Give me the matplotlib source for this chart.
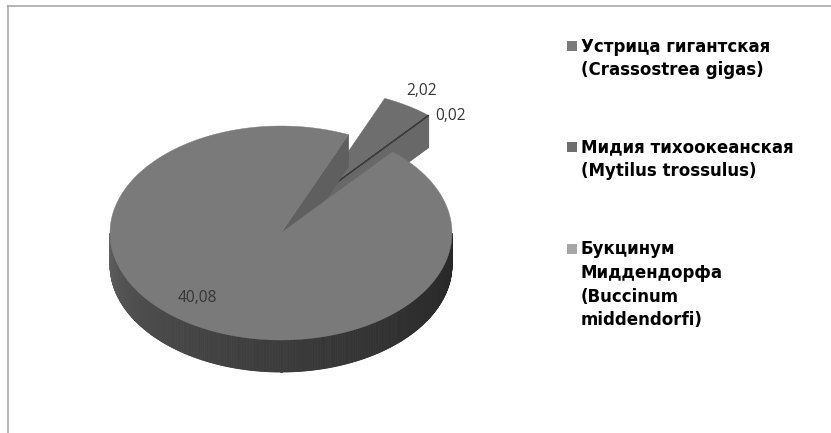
import numpy as np
import matplotlib
matplotlib.use("Agg")
import matplotlib.pyplot as plt
from matplotlib.patches import Polygon, Rectangle
from matplotlib.colors import to_rgb

# data
names = ["Устрица гигантская\n(Crassostrea gigas)",
         "Мидия тихоокеанская\n(Mytilus trossulus)",
         "Букцинум\nМиддендорфа\n(Buccinum\nmiddendorfi)"]
values = [40.08, 2.02, 0.02]
labels = ["40,08", "2,02", "0,02"]
explode = [0.0, 0.4, 0.4]

# style
colors = ["#7a7a7a", "#6e6e6e", "#a6a6a6"]
face_colors = ["#5f5f5f", "#636363", "#686868"]
start_angle = 49.3          # first slice starts here, runs clockwise
cx, cy = 281.0, 233.0       # pie centre [px]
rx, ry = 171.0, 107.0       # top ellipse radii [px]
depth = 32.0                # pie thickness [px]

W, H = 831, 433
fig = plt.figure(figsize=(W / 100, H / 100), dpi=100)
ax = fig.add_axes([0, 0, 1, 1])
ax.set_xlim(0, W)
ax.set_ylim(H, 0)
ax.axis("off")

# frame (only top and left edge visible in the crop)
ax.plot([7.5, W], [5.5, 5.5], color="#a8a8a8", lw=1.2)
ax.plot([7.5, 7.5], [5.5, H], color="#a8a8a8", lw=1.2)


def pt(t, ox, oy, dz=0.0):
    t = np.radians(t)
    return cx + ox + rx * np.cos(t), cy + oy - ry * np.sin(t) + dz


def darker(c, f):
    r, g, b = to_rgb(c)
    return (r * f, g * f, b * f)


# slice angles (math degrees, ccw), slices go clockwise from start_angle
fracs = np.array(values) / sum(values) * 360.0
ends = start_angle - np.concatenate([[0], np.cumsum(fracs)[:-1]])
starts = ends - fracs

# exploded slices move out together, along the middle of the group
ex = [i for i in range(len(values)) if explode[i] > 0]
group_mid = np.radians((starts[ex].min() + ends[ex].max()) / 2)

slices = []
for i in range(len(values)):
    ox = explode[i] * rx * np.cos(group_mid)
    oy = -explode[i] * ry * np.sin(group_mid)
    slices.append((i, starts[i], ends[i], ox, oy))

# back slices first; within a group the wider slice first
slices.sort(key=lambda s: (round(s[4], 3), -fracs[s[0]]))

for i, a, b, ox, oy in slices:
    c0 = (cx + ox, cy + oy)
    # radial cut faces
    for t, is_start in ((a, True), (b, False)):
        tr = np.radians(t)
        visible = np.cos(tr) > 0 if is_start else np.cos(tr) < 0
        if not visible or fracs[i] >= 359.9:
            continue
        x1, y1 = pt(t, ox, oy)
        poly = [c0, (x1, y1), (x1, y1 + depth), (c0[0], c0[1] + depth)]
        ax.add_patch(Polygon(poly, closed=True, fc=face_colors[i],
                             ec=face_colors[i], lw=0.5))
    # outer wall (front half only), shaded by angle
    for k in range(-1, 2):
        lo = max(a, 180 + 360 * k)
        hi = min(b, 360 + 360 * k)
        if hi <= lo:
            continue
        ts = np.linspace(lo, hi, int((hi - lo) * 2) + 2)
        for t1, t2 in zip(ts[:-1], ts[1:]):
            p1 = pt(t1, ox, oy)
            p2 = pt(t2, ox, oy)
            u = ((t1 + t2) / 2 - 360 * k - 180) / 180.0
            col = darker(colors[i], 0.88 - 0.56 * np.sqrt(u))
            ax.add_patch(Polygon([p1, p2, (p2[0], p2[1] + depth),
                                  (p1[0], p1[1] + depth)], closed=True,
                                 fc=col, ec=col, lw=0.6))
    # top face
    ts = np.linspace(a, b, max(int((b - a) * 2), 2))
    arc = [pt(t, ox, oy) for t in ts]
    lw = 0.9 if fracs[i] < 1 else 0.3
    ec = "#3c3c3c" if fracs[i] < 1 else colors[i]
    ax.add_patch(Polygon([c0] + arc, closed=True, fc=colors[i], ec=ec, lw=lw))

# data labels
label_pos = [(197, 298), (422, 91), (451, 116)]
for lab, (x, y) in zip(labels, label_pos):
    ax.text(x, y, lab, ha="center", va="center", fontsize=11.2,
            family="Open Sans", color="#363636")

# legend
leg_y = [46, 147, 249]
for name, col, y in zip(names, colors, leg_y):
    ax.add_patch(Rectangle((567, y - 5), 10, 10, fc=col, ec="none"))
    ax.text(581, y - 8.5, name, ha="left", va="top", fontsize=12,
            family="DejaVu Sans", weight="bold", color="black",
            linespacing=1.4)

fig.savefig("out.png", dpi=100)
